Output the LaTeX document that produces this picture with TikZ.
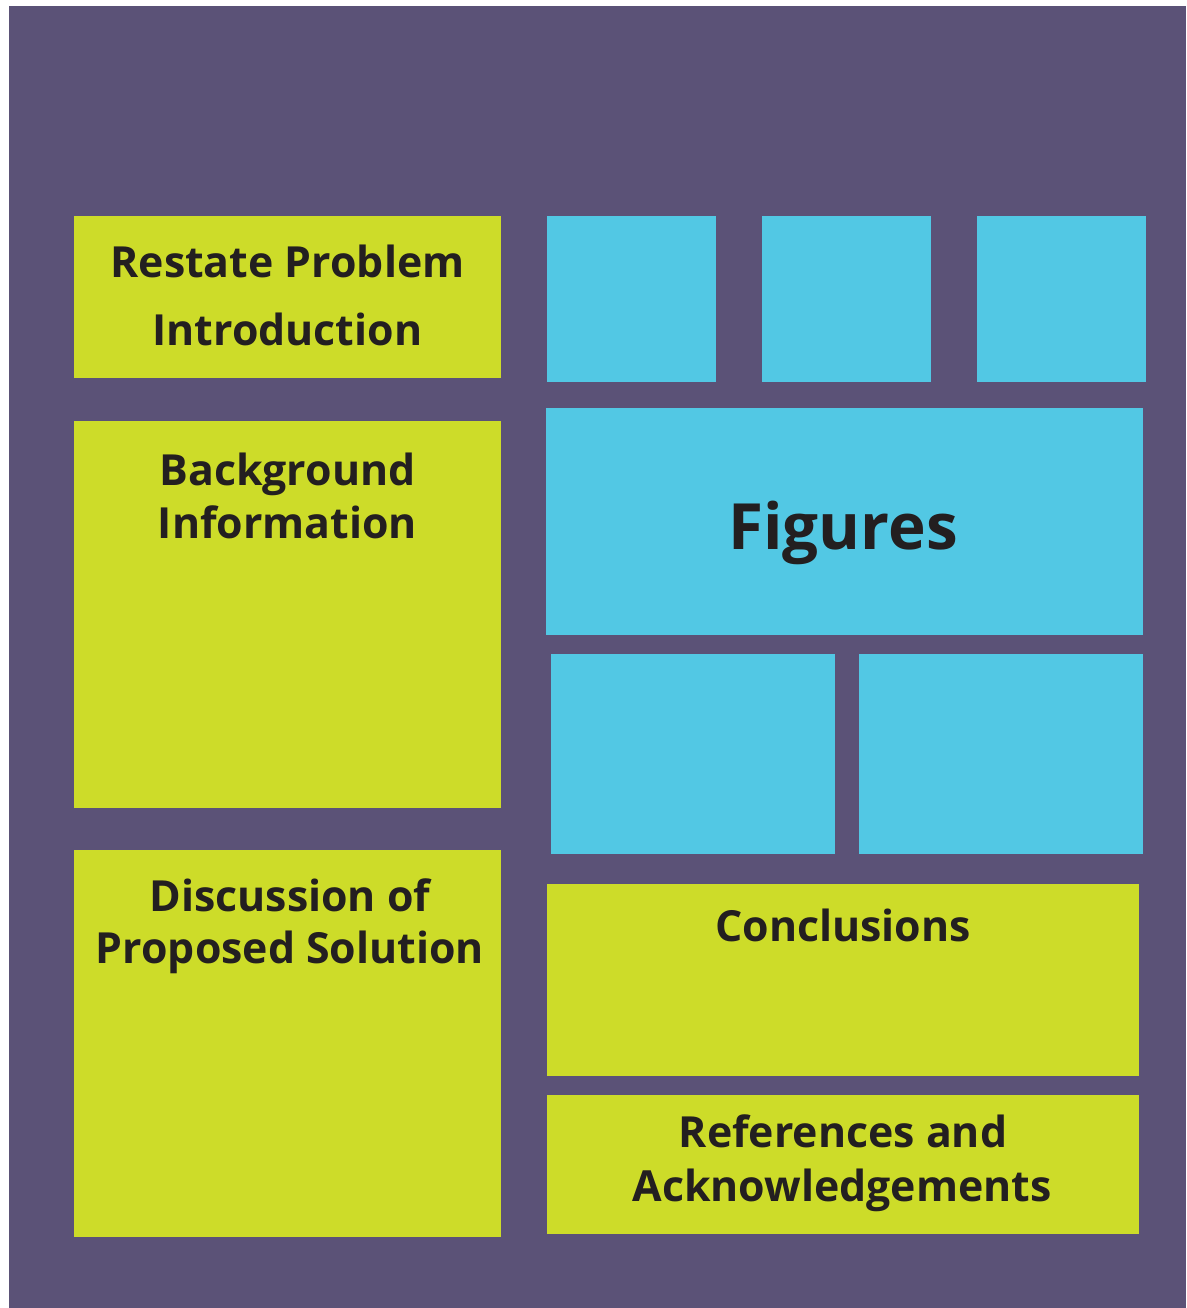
\documentclass[tikz,border=0pt]{standalone}
\usepackage{fontspec}
\setmainfont{Open Sans}[BoldFont={* Bold}]
\definecolor{bgpurple}{HTML}{5B5277}
\definecolor{boxgreen}{HTML}{CDDC29}
\definecolor{boxcyan}{HTML}{52C8E4}
\definecolor{inkdark}{HTML}{231F20}
\tikzset{
  greenbox/.style={fill=boxgreen, draw=none},
  cyanbox/.style={fill=boxcyan, draw=none},
  lbl/.style={anchor=base, inner sep=0pt, text=inkdark, font=\fontsize{43}{53}\selectfont\bfseries},
  biglbl/.style={anchor=base, inner sep=0pt, text=inkdark, font=\fontsize{64}{70}\selectfont\bfseries}
}
\begin{document}
\begin{tikzpicture}[x=1bp,y=-1bp]
\useasboundingbox (0,0) rectangle (1186,1308);
\fill[white] (0,0) rectangle (1186,1308);
\fill[bgpurple] (9,6) rectangle (1186,1308);
% left column
\path[greenbox] (74,216) rectangle (501,378);
\path[greenbox] (74,421) rectangle (501,808);
\path[greenbox] (74,850) rectangle (501,1237);
% right column
\path[cyanbox] (547,216) rectangle (716,382);
\path[cyanbox] (762,216) rectangle (931,382);
\path[cyanbox] (977,216) rectangle (1146,382);
\path[cyanbox] (546,408) rectangle (1143,635);
\path[cyanbox] (551,654) rectangle (835,854);
\path[cyanbox] (859,654) rectangle (1143,854);
\path[greenbox] (547,884) rectangle (1139,1076);
\path[greenbox] (547,1095) rectangle (1139,1234);
% labels
\node[lbl] (restate1) at (287.5,278) {Restate Problem};
\node[lbl] (restate2) at (287.5,345) {Introduction};
\node[lbl] (backgr1) at (287.5,485) {Background};
\node[lbl] (backgr2) at (287.5,538) {Information};
\node[lbl] (discuss1) at (290,911.5) {Discussion of};
\node[lbl] (discuss2) at (290,963.5) {Proposed Solution};
\node[biglbl] (figures) at (843,549) {Figures};
\node[lbl] (concl) at (843,941) {Conclusions};
\node[lbl] (refs1) at (843,1147.5) {References and};
\node[lbl] (refs2) at (842,1201.5) {Acknowledgements};
\end{tikzpicture}
\end{document}
